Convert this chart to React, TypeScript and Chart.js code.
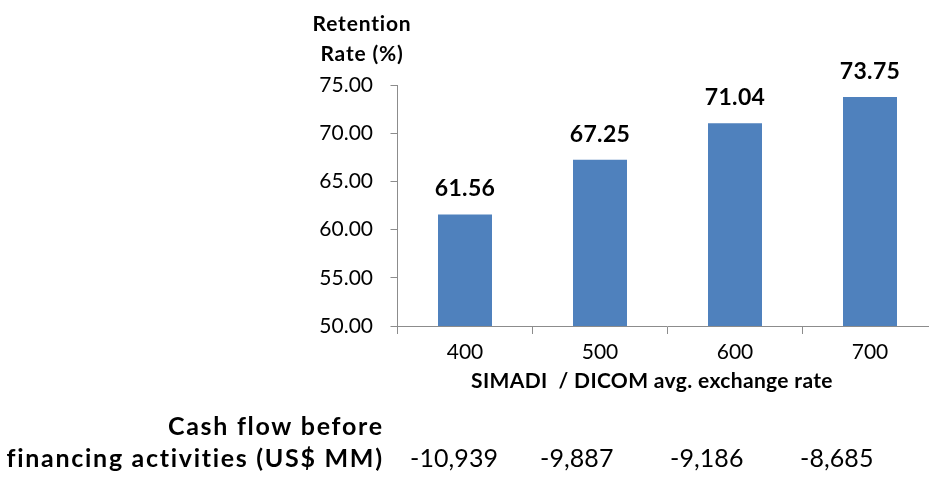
import React, { useEffect, useRef } from "react";
import { Chart, registerables } from "chart.js";

Chart.register(...registerables);

const categories = ["400", "500", "600", "700"];
const retentionRates = [61.56, 67.25, 71.04, 73.75];
const cashFlowValues = ["-10,939", "-9,887", "-9,186", "-8,685"];
const yTitleLines = ["Retention", "Rate (%)"];
const xTitle = "SIMADI  / DICOM avg. exchange rate";
const rowLabelLines = ["Cash flow before", "financing activities (US$ MM)"];

const FONT = "Lato, 'Open Sans', sans-serif";
const AXIS_GRAY = "#8c8c8c";

export default function App() {
  const canvasRef = useRef<HTMLCanvasElement | null>(null);

  useEffect(() => {
    if (!canvasRef.current) return;

    const labelsPlugin = {
      id: "customText",
      afterDatasetsDraw(chart: any) {
        const ctx = chart.ctx as any;
        ctx.save();
        ctx.fillStyle = "#000";
        ctx.textBaseline = "middle";

        // data labels above bars
        ctx.font = `bold 23px ${FONT}`;
        ctx.letterSpacing = "0.3px";
        ctx.textAlign = "center";
        const meta = chart.getDatasetMeta(0);
        meta.data.forEach((bar: any, i: number) => {
          ctx.fillText(retentionRates[i].toFixed(2), bar.x, bar.y - 25.5);
        });

        // y axis title
        ctx.font = `bold 21px ${FONT}`;
        ctx.letterSpacing = "0.8px";
        ctx.textAlign = "center";
        yTitleLines.forEach((line, i) => {
          ctx.fillText(line, 362, 24 + i * 30);
        });

        // x axis title
        ctx.font = `bold 21px ${FONT}`;
        ctx.letterSpacing = "0.35px";
        ctx.textAlign = "center";
        ctx.fillText(xTitle, 652, 381);

        // cash flow row
        ctx.font = `bold 25px ${FONT}`;
        ctx.letterSpacing = "1.7px";
        ctx.textAlign = "right";
        rowLabelLines.forEach((line, i) => {
          ctx.fillText(line, 383.7, 427 + i * 32);
        });
        ctx.font = `25px ${FONT}`;
        ctx.letterSpacing = "0.1px";
        ctx.textAlign = "left";
        cashFlowValues.forEach((v, i) => {
          ctx.fillText(v, 410 + i * 130, 459);
        });
        ctx.restore();
      },
    };

    const chart = new Chart(canvasRef.current, {
      type: "bar",
      data: {
        labels: categories,
        datasets: [
          {
            data: retentionRates,
            backgroundColor: "#4F81BD",
            borderWidth: 0,
            barPercentage: 0.4,
            categoryPercentage: 1,
          },
        ],
      },
      options: {
        responsive: false,
        animation: false,
        devicePixelRatio: 1,
        layout: { padding: { top: 85, right: 12.5, left: 0, bottom: 0 } },
        plugins: {
          legend: { display: false },
          tooltip: { enabled: false },
        },
        scales: {
          x: {
            afterFit: (scale: any) => {
              scale.height = 152;
            },
            grid: {
              display: true,
              drawOnChartArea: false,
              drawTicks: true,
              tickLength: 8,
              color: AXIS_GRAY,
              offset: true,
            },
            border: { display: true, color: AXIS_GRAY, width: 1 },
            ticks: {
              color: "#000",
              font: { family: FONT, size: 21 },
              padding: 6,
              maxRotation: 0,
            },
          },
          y: {
            min: 50,
            max: 75,
            afterFit: (scale: any) => {
              scale.width = 397.5;
            },
            grid: {
              display: true,
              drawOnChartArea: false,
              drawTicks: true,
              tickLength: 7,
              color: AXIS_GRAY,
            },
            border: { display: true, color: AXIS_GRAY, width: 1 },
            ticks: {
              stepSize: 5,
              color: "#000",
              font: { family: FONT, size: 21 },
              padding: 17.5,
              callback: (v: any) => Number(v).toFixed(2),
            },
          },
        },
      },
      plugins: [labelsPlugin],
    });

    return () => chart.destroy();
  }, []);

  return (
    <div
      style={{
        position: "absolute",
        left: 0,
        top: 0,
        width: 929,
        height: 478,
        overflow: "hidden",
        background: "#fff",
      }}
    >
      <canvas
        ref={canvasRef}
        width={950}
        height={478}
        style={{ width: 950, height: 478, display: "block" }}
      />
    </div>
  );
}
